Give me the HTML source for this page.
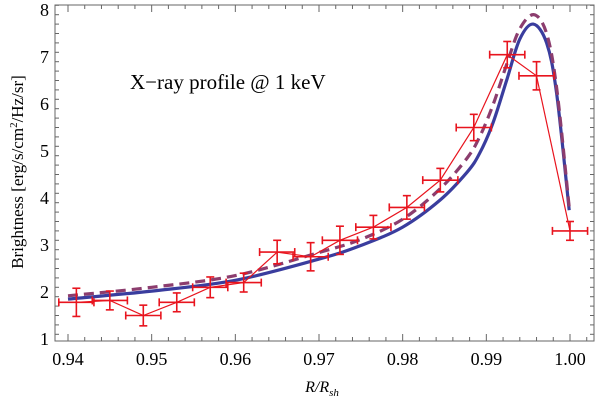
<!DOCTYPE html>
<html><head><meta charset="utf-8"><style>
body{margin:0;background:#fff;}
svg{display:block;font-family:"Liberation Serif",serif;}
</style></head><body>
<svg id="c" width="600" height="400"></svg>
<script>
const obsX=[0.941,0.945,0.949,0.953,0.957,0.961,0.965,0.969,0.9725,0.9765,0.9805,0.9845,0.9885,0.9925,0.996,1.000];
const obsY=[1.78,1.82,1.50,1.78,2.10,2.20,2.85,2.75,3.10,3.38,3.80,4.38,5.50,7.05,6.60,3.30];
const obsYerr=[0.30,0.20,0.22,0.20,0.22,0.20,0.25,0.30,0.30,0.25,0.25,0.25,0.28,0.28,0.30,0.20];
const obsXerr=[0.0021,0.0021,0.0021,0.0021,0.0021,0.0021,0.0021,0.0021,0.0021,0.0021,0.0021,0.0021,0.0021,0.0021,0.0021,0.0021];
const modelX=[0.94,0.95,0.96,0.97,0.975,0.98,0.9845,0.9877,0.9892,0.9908,0.9925,0.994,0.9956,0.9972,0.9984,0.9999];
const modelSolid=[1.85,2.02,2.25,2.70,2.99,3.38,3.96,4.55,4.95,5.6,6.55,7.38,7.70,7.30,6.23,3.74];
const modelDashX=[0.94,0.95,0.96,0.97,0.975,0.98,0.9845,0.9877,0.9892,0.9908,0.9925,0.994,0.9957,0.9972,0.9984,0.9999];
const modelDash=[1.92,2.1,2.35,2.84,3.12,3.55,4.2,4.85,5.3,5.98,6.88,7.6,7.9,7.5,6.35,3.8];
const xTicks=[0.94,0.95,0.96,0.97,0.98,0.99,1.00];
const xTickLabels=["0.94","0.95","0.96","0.97","0.98","0.99","1.00"];
const yTicks=[1,2,3,4,5,6,7,8];

const L=55,R=594,T=5,B=341;
const X=v=>68+(v-0.94)/0.06*502;
const Y=v=>339-(v-1)*47;
const svg=document.getElementById('c');
const NS='http://www.w3.org/2000/svg';
function mk(t,a,p){const e=document.createElementNS(NS,t);for(const k in a)e.setAttribute(k,a[k]);(p||svg).appendChild(e);return e;}

const frame=mk('rect',{x:L,y:T,width:R-L,height:B-T,fill:'none',stroke:'#666','stroke-width':1});



for(let i=0;i<=32;i++){const v=0.938+i*0.002;const px=X(v);if(px<L||px>R)continue;
 const major=Math.abs(Math.round(v*100)-v*100)<1e-6;const len=major?7:4;
 mk('line',{x1:px,y1:B,x2:px,y2:B-len,stroke:'#666'});mk('line',{x1:px,y1:T,x2:px,y2:T+len,stroke:'#666'});}
xTicks.forEach((v,i)=>{const t=mk('text',{x:X(v),y:365,'text-anchor':'middle','font-size':18});t.textContent=xTickLabels[i];
 
 });
for(let i=0;i<=40;i++){const v=0.9+i*0.2;const py=Y(v);if(py<T||py>B)continue;
 const major=Math.abs(v-Math.round(v))<1e-6;const len=major?7:4;
 mk('line',{x1:L,y1:py,x2:L+len,y2:py,stroke:'#666'});mk('line',{x1:R,y1:py,x2:R-len,y2:py,stroke:'#666'});}
yTicks.forEach(v=>{const t=mk('text',{x:49,y:Y(v)+6,'text-anchor':'end','font-size':18});t.textContent=v;
 
 });

const yl=mk('text',{x:0,y:0,transform:'translate(23,172) rotate(-90)','text-anchor':'middle','font-size':17});
yl.innerHTML='Brightness [erg/s/cm<tspan dy="-6" font-size="11">2</tspan><tspan dy="6">/Hz/sr]</tspan>';


const xl=mk('text',{x:322,y:392,'text-anchor':'middle','font-size':16,'font-style':'italic'});
xl.innerHTML='R/R<tspan dy="4" font-size="11">sh</tspan>';


const ti=mk('text',{x:130,y:89,'font-size':21});ti.textContent='X\u2212ray profile @ 1 keV';



function path(xs,ys){return xs.map((x,i)=>(i?'L':'M')+X(x).toFixed(1)+','+Y(ys[i]).toFixed(1)).join(' ');}
function smooth(xs,ys){const p=xs.map((x,i)=>[X(x),Y(ys[i])]);let d='M'+p[0][0].toFixed(1)+','+p[0][1].toFixed(1);
 for(let i=0;i<p.length-1;i++){const p0=p[Math.max(0,i-1)],p1=p[i],p2=p[i+1],p3=p[Math.min(p.length-1,i+2)];
  const c1=[p1[0]+(p2[0]-p0[0])/6,p1[1]+(p2[1]-p0[1])/6],c2=[p2[0]-(p3[0]-p1[0])/6,p2[1]-(p3[1]-p1[1])/6];
  d+=' C'+c1.map(v=>v.toFixed(1)).join(',')+' '+c2.map(v=>v.toFixed(1)).join(',')+' '+p2[0].toFixed(1)+','+p2[1].toFixed(1);}
 return d;}
const sl=mk('path',{d:smooth(modelX,modelSolid),fill:'none',stroke:'#3a3d9e','stroke-width':3.2,'stroke-linejoin':'round'});


const dl=mk('path',{d:smooth(modelDashX,modelDash),fill:'none',stroke:'#8c3d6e','stroke-width':3.2,'stroke-dasharray':'10,6','stroke-linejoin':'round'});


const ol=mk('path',{d:path(obsX,obsY),fill:'none',stroke:'#e8141e','stroke-width':1.2});


obsX.forEach((x,i)=>{const g=mk('g',{stroke:'#e8141e','stroke-width':1.6});
 
 
 const cx=X(x),cy=Y(obsY[i]),x1=X(x-obsXerr[i]),x2=X(x+obsXerr[i]),y1=Y(obsY[i]+obsYerr[i]),y2=Y(obsY[i]-obsYerr[i]);
 mk('line',{x1:x1,y1:cy,x2:x2,y2:cy},g);mk('line',{x1:cx,y1:y1,x2:cx,y2:y2},g);
 mk('line',{x1:x1,y1:cy-4,x2:x1,y2:cy+4},g);mk('line',{x1:x2,y1:cy-4,x2:x2,y2:cy+4},g);
 mk('line',{x1:cx-4,y1:y1,x2:cx+4,y2:y1},g);mk('line',{x1:cx-4,y1:y2,x2:cx+4,y2:y2},g);});
</script>
</body></html>
